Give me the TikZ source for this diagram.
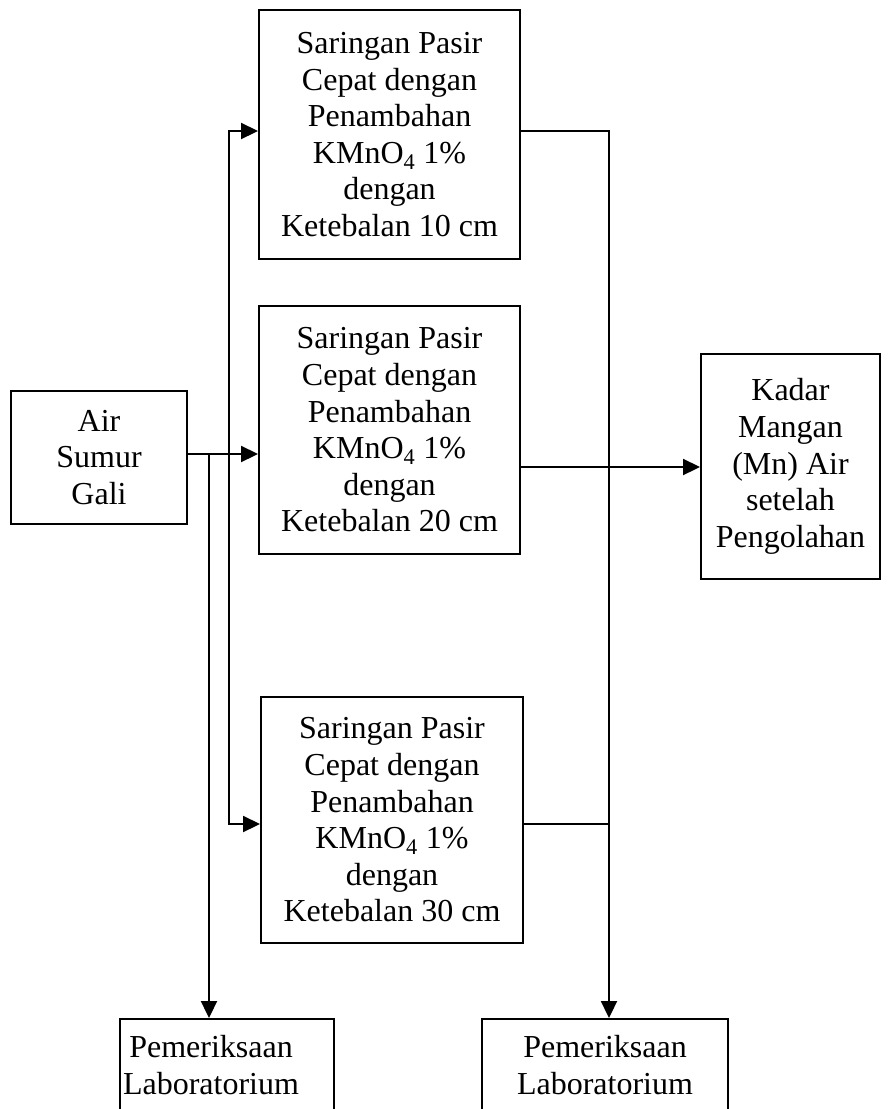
\documentclass[tikz,border=0pt]{standalone}
\usepackage{fontspec}
\setmainfont{Liberation Serif}
\usetikzlibrary{arrows.meta,calc}
\begin{document}
\begin{tikzpicture}[x=1pt,y=-1pt,
  txt/.style={align=center,inner sep=0pt,font=\fontsize{32}{36.6}\selectfont},
  box/.style={txt,draw,line width=1.9pt},
  link/.style={line width=1.9pt},
  tipe/.style={-{Triangle[length=17pt,width=16pt]}},
  tipb/.style={{Triangle[length=17pt,width=16pt]}-{Triangle[length=17pt,width=16pt]}},
 ]
\useasboundingbox (0,0) rectangle (890,1109);
\fill[white] (0,0) rectangle (890,1109);
\clip (0,0) rectangle (890,1109);

\node[box,minimum width=176pt,minimum height=133pt] (A) at (99,457.5) {Air\\Sumur\\Gali};
\node[box,minimum width=261pt,minimum height=249pt] (B1) at (389.5,134.5)
  {Saringan Pasir\\Cepat dengan\\Penambahan\\KMnO\textsubscript{4} 1\%\\dengan\\Ketebalan 10 cm};
\node[box,minimum width=261pt,minimum height=248pt] (B2) at (389.5,430)
  {Saringan Pasir\\Cepat dengan\\Penambahan\\KMnO\textsubscript{4} 1\%\\dengan\\Ketebalan 20 cm};
\node[box,minimum width=262pt,minimum height=246pt] (B3) at (392,820)
  {Saringan Pasir\\Cepat dengan\\Penambahan\\KMnO\textsubscript{4} 1\%\\dengan\\Ketebalan 30 cm};
\node[box,minimum width=179pt,minimum height=225pt] (R) at (790.5,466.5)
  {Kadar\\Mangan\\(Mn) Air\\setelah\\Pengolahan};
\node[box,minimum width=214pt,minimum height=92pt] (L1) at (227,1065) {};
\node[txt] (L1t) at (211,1065) {Pemeriksaan\\Laboratorium};
\node[box,minimum width=246pt,minimum height=92pt] (L2) at (605,1065) {Pemeriksaan\\Laboratorium};

\coordinate (yA) at (0,454);
\coordinate (y1) at (0,131);
\coordinate (y2) at (0,467);
\coordinate (y3) at (0,824);
\coordinate (xL) at (209,0);
\coordinate (xM) at (229,0);
\coordinate (xR) at (609,0);

\draw[link,tipe] (A.east |- yA) -- (B2.west |- yA);
\draw[link,tipb] (B1.west |- y1) -- (xM |- y1) -- (xM |- y3) -- (B3.west |- y3);
\draw[link,tipe] (xL |- yA) -- (xL |- L1.north);
\draw[link,tipe] (B1.east |- y1) -- (xR |- y1) -- (xR |- L2.north);
\draw[link,tipe] (B2.east |- y2) -- (R.west |- y2);
\draw[link] (B3.east |- y3) -- (xR |- y3);
\end{tikzpicture}
\end{document}
